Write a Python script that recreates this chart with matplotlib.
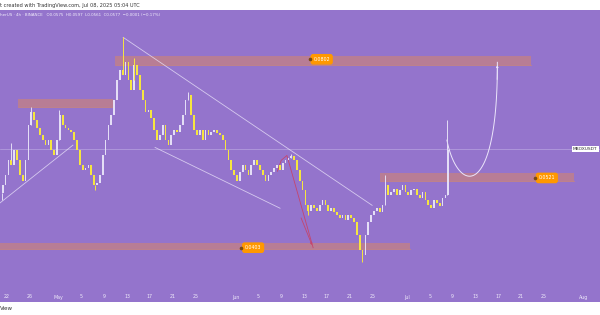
import numpy as np
import pandas as pd
import matplotlib
matplotlib.use("Agg")
import matplotlib.pyplot as plt
import matplotlib.dates as mdates
from matplotlib.patches import Rectangle

# 12h closes, MBOX/USDT, 2025-04-21 00:00 .. 2025-07-08 00:00
closes = [
    0.0505, 0.0524, 0.0554, 0.0544, 0.0575, 0.0554, 0.0524, 0.0514, 0.0554, 0.0631,
    0.0662, 0.0642, 0.0624, 0.0608, 0.0597, 0.0586, 0.0597, 0.0575, 0.0564, 0.0597,
    0.0654, 0.0631, 0.0624, 0.0619, 0.0615, 0.0597, 0.0575, 0.0544, 0.0534, 0.0538,
    0.0544, 0.0524, 0.0505, 0.0510, 0.0524, 0.0564, 0.0597, 0.0631, 0.0654, 0.0692,
    0.0745, 0.0773, 0.0759, 0.0796, 0.0745, 0.0718, 0.0787, 0.0759, 0.0718, 0.0692,
    0.0662, 0.0667, 0.0647, 0.0619, 0.0597, 0.0608, 0.0631, 0.0597, 0.0586, 0.0608,
    0.0619, 0.0615, 0.0631, 0.0654, 0.0692, 0.0705, 0.0654, 0.0619, 0.0608, 0.0619,
    0.0597, 0.0619, 0.0608, 0.0615, 0.0619, 0.0613, 0.0608, 0.0597, 0.0575, 0.0554,
    0.0534, 0.0524, 0.0514, 0.0530, 0.0544, 0.0534, 0.0524, 0.0544, 0.0554, 0.0544,
    0.0534, 0.0524, 0.0514, 0.0524, 0.0530, 0.0538, 0.0544, 0.0534, 0.0548, 0.0554,
    0.0558, 0.0562, 0.0554, 0.0534, 0.0514, 0.0496, 0.0469, 0.0460, 0.0469, 0.0464,
    0.0460, 0.0469, 0.0478, 0.0469, 0.0460, 0.0464, 0.0457, 0.0452, 0.0447, 0.0452,
    0.0444, 0.0452, 0.0447, 0.0441, 0.0420, 0.0397, 0.0390, 0.0420, 0.0441, 0.0452,
    0.0460, 0.0464, 0.0457, 0.0469, 0.0505, 0.0487, 0.0492, 0.0499, 0.0487, 0.0496,
    0.0505, 0.0492, 0.0487, 0.0496, 0.0499, 0.0487, 0.0482, 0.0492, 0.0478, 0.0469,
    0.0464, 0.0478, 0.0473, 0.0467, 0.0482, 0.0487, 0.0575,
]
first_open = 0.0490

# long wicks
spike_times = ["2025-04-21 04:00", "2025-04-22 16:00", "2025-04-26 04:00", "2025-05-01 04:00",
               "2025-05-07 08:00", "2025-05-12 08:00", "2025-05-14 04:00", "2025-05-23 16:00",
               "2025-06-10 16:00", "2025-06-13 16:00", "2025-06-23 04:00", "2025-06-27 04:00",
               "2025-07-08 00:00"]
spike_prices = [0.0478, 0.0590, 0.0675, 0.0667, 0.0496, 0.0873, 0.0808, 0.0713,
                0.0568, 0.0452, 0.0381, 0.0524, 0.0643]

# support / resistance zones
zone_start = ["2025-05-10 22:00", "2025-04-23 22:00", "2025-06-26 07:00", "2025-04-20 12:00"]
zone_end = ["2025-07-22 17:00", "2025-05-10 13:00", "2025-07-30 05:00", "2025-07-01 12:00"]
zone_low = [0.0788, 0.0675, 0.0513, 0.0399]
zone_high = [0.0814, 0.0695, 0.0528, 0.0408]

label_text = ["0.0802", "0.0403", "0.0521"]
label_time = ["2025-06-16 02:00", "2025-06-04 02:00", "2025-07-25 12:00"]
label_price = [0.0805, 0.0401, 0.0519]

last_price = 0.0577

# trend lines
upper_line = (["2025-05-12 08:00", "2025-06-24 22:00"], [0.0873, 0.0469])
lower_line = (["2025-05-17 22:00", "2025-06-08 19:00"], [0.0581, 0.0464])
left_line = (["2025-04-20 18:00", "2025-05-03 13:00"], [0.0473, 0.0586])
red_path = (["2025-06-08 08:00", "2025-06-09 00:00", "2025-06-10 00:00", "2025-06-14 14:00"],
            [0.0532, 0.0554, 0.0564, 0.0401])
# projected move (bezier control points)
proj_times = ["2025-07-08 00:00", "2025-07-09 22:00", "2025-07-16 22:00", "2025-07-16 20:00"]
proj_prices = [0.0597, 0.0487, 0.0478, 0.0796]

tick_dates = ["2025-04-22", "2025-04-26", "2025-05-01", "2025-05-05", "2025-05-09", "2025-05-13",
              "2025-05-17", "2025-05-21", "2025-05-25", "2025-06-01", "2025-06-05", "2025-06-09",
              "2025-06-13", "2025-06-17", "2025-06-21", "2025-06-25", "2025-07-01", "2025-07-05",
              "2025-07-09", "2025-07-13", "2025-07-17", "2025-07-21", "2025-07-25", "2025-08-01"]
tick_labels = ["22", "26", "May", "5", "9", "13", "17", "21", "25", "Jun", "5", "9",
               "13", "17", "21", "25", "Jul", "5", "9", "13", "17", "21", "25", "Aug"]

BG = "#9474cc"
UP = "#e4def6"
DOWN = "#f6e63e"

def dn(s):
    return mdates.date2num(pd.to_datetime(s))

fig = plt.figure(figsize=(6, 3.15), dpi=100, facecolor="white")
ax = fig.add_axes([0, 13 / 315, 1, 292 / 315])
ax.set_facecolor(BG)
for s in ax.spines.values():
    s.set_visible(False)

times = pd.date_range("2025-04-21", periods=len(closes), freq="12h")
xs = mdates.date2num(times) + 0.25
c = np.array(closes)
o = np.array([first_open] + closes[:-1])
cols = [UP if cc >= oo else DOWN for oo, cc in zip(o, c)]
ax.bar(xs, c - o, bottom=o, width=0.3, color=cols, linewidth=0, zorder=4)

sx = dn(spike_times)
idx = np.clip(np.searchsorted(xs, sx) - 1, 0, len(xs) - 1)
for k, (x, p) in enumerate(zip(sx, spike_prices)):
    i = idx[k]
    base = max(o[i], c[i]) if p > c[i] else min(o[i], c[i])
    ax.vlines(x, min(base, p), max(base, p), color=cols[i], lw=0.7, zorder=4)

# zones
for t0, t1, lo, hi in zip(zone_start, zone_end, zone_low, zone_high):
    ax.add_patch(Rectangle((dn(t0), lo), dn(t1) - dn(t0), hi - lo,
                           facecolor="#e48a52", alpha=0.45, edgecolor="none", zorder=2))
    ax.plot([dn(t0), dn(t1)], [lo, lo], color="#e8904a", lw=0.5, alpha=0.7, zorder=2)

for t, p, txt in zip(label_time, label_price, label_text):
    ax.text(dn(t), p, txt, fontsize=3.4, color="white", ha="center", va="center", zorder=6,
            bbox=dict(boxstyle="round,pad=0.45,rounding_size=0.4", fc="#ff9800", ec="#ff9800"))
    ax.plot(dn(t) - 2.1, p, "o", ms=1.6, color="#7b4b12", zorder=7)

ax.axhline(last_price, color="#c9b8ea", lw=0.5, alpha=0.7, zorder=1)

for (tt, pp) in (upper_line, lower_line, left_line):
    ax.plot(dn(tt), pp, color="#ece6fb", lw=0.6, alpha=0.75, zorder=3)

rx = dn(red_path[0])
ax.plot(rx, red_path[1], color="#c4456e", lw=0.6, zorder=3)
ax.annotate("", xy=(rx[-1], red_path[1][-1]), xytext=(rx[-2] + 0.5 * (rx[-1] - rx[-2]), 0.0452),
            arrowprops=dict(arrowstyle="-|>", color="#c4456e", lw=0.6, mutation_scale=3), zorder=3)

# bezier projection in (date, log price)
px = dn(proj_times)
py = np.log(proj_prices)
t = np.linspace(0, 1, 60)
bx = ((1 - t) ** 3) * px[0] + 3 * ((1 - t) ** 2) * t * px[1] + 3 * (1 - t) * t ** 2 * px[2] + t ** 3 * px[3]
by = ((1 - t) ** 3) * py[0] + 3 * ((1 - t) ** 2) * t * py[1] + 3 * (1 - t) * t ** 2 * py[2] + t ** 3 * py[3]
ax.plot(bx, np.exp(by), color="#ece6fb", lw=0.7, zorder=3)
ax.annotate("", xy=(bx[-1], np.exp(by[-1])), xytext=(bx[-4], np.exp(by[-4])),
            arrowprops=dict(arrowstyle="-|>", color="#ece6fb", lw=0.6, mutation_scale=3))

ax.set_yscale("log")
ax.set_ylim(0.0328, 0.0966)
ax.set_xlim(dn("2025-04-22") - 1.225, dn("2025-04-22") + 103.8)
ax.set_yticks([])
ax.yaxis.set_minor_locator(matplotlib.ticker.NullLocator())
ax.set_xticks([])
ax.tick_params(which="both", left=False, bottom=False, labelleft=False, labelbottom=False)

trans = matplotlib.transforms.blended_transform_factory(ax.transData, ax.transAxes)
for d, lab in zip(tick_dates, tick_labels):
    ax.text(dn(d), 5 / 292, lab, transform=trans, fontsize=3.4, color="#efeafa",
            ha="center", va="center")

fig.text(0.0, 1 - 5 / 315, "t created with TradingView.com, Jul 08, 2025 05:04 UTC",
         fontsize=3.6, color="#333333", ha="left", va="center")
fig.text(0.0, 1 - 15 / 315,
         "herUS \u00b7 4h \u00b7 BINANCE   O0.0575  H0.0597  L0.0561  C0.0577  \u22120.0001 (\u22120.17%)",
         fontsize=2.9, color="#f2eefc", ha="left", va="center")
fig.text(0.996, 1 - 149 / 315, "MBOXUSDT", fontsize=3.2, color="#333333", ha="right", va="center",
         bbox=dict(boxstyle="square,pad=0.3", fc="white", ec="none"))
fig.text(0.0, 1 - 309 / 315, "View", fontsize=4, color="#333333", ha="left", va="center")

fig.savefig("out.png", dpi=100, facecolor="white")
